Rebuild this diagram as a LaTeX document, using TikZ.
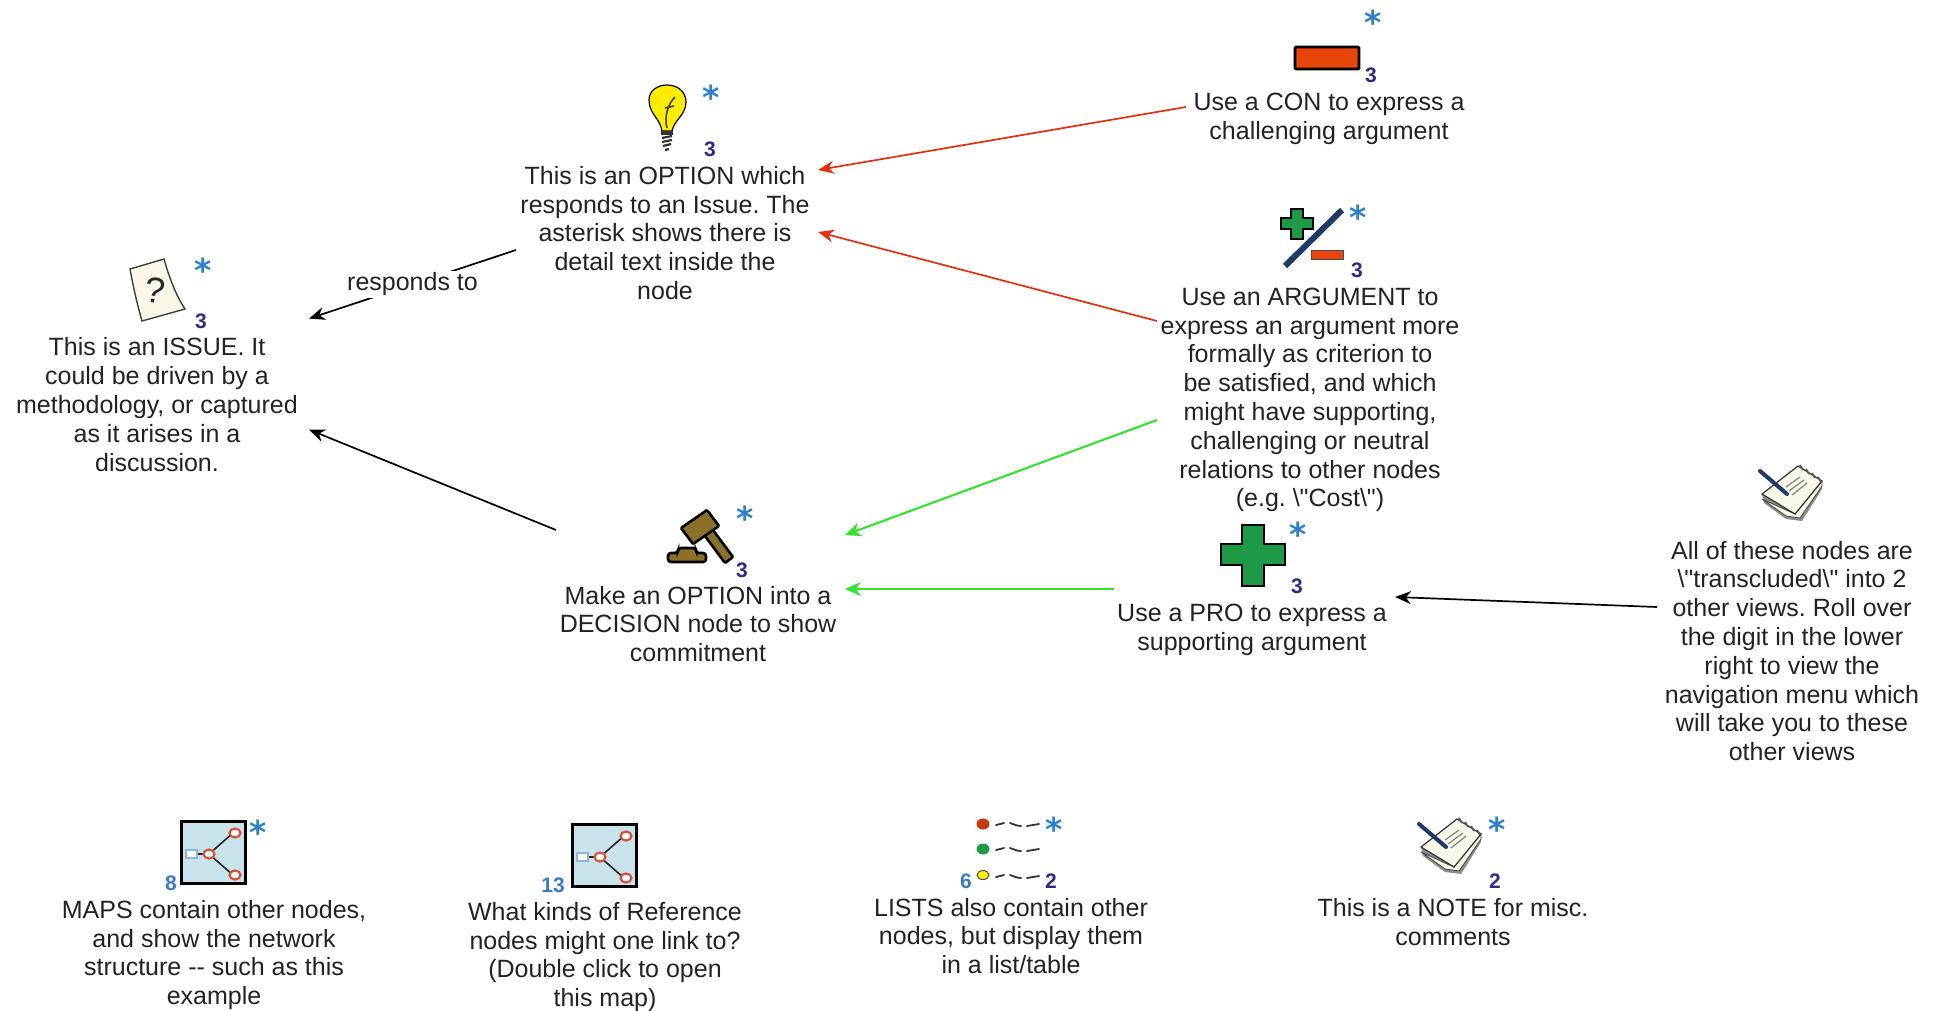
\documentclass[tikz,border=0pt]{standalone}
\usepackage{fontspec}
\setmainfont{Liberation Sans}
\newfontfamily\labelfont{Liberation Sans}
\newfontfamily\starfont{DejaVu Sans}
\usetikzlibrary{arrows.meta,calc}
\definecolor{inktext}{HTML}{222222}
\definecolor{starblue}{HTML}{2F7FCB}
\definecolor{cntnavy}{HTML}{2B2B85}
\definecolor{cntblue}{HTML}{3A7CC4}
\definecolor{conred}{HTML}{E8450A}
\definecolor{progreen}{HTML}{1E9A46}
\definecolor{linkred}{HTML}{E0300F}
\definecolor{linkgreen}{HTML}{35E035}
\definecolor{brass}{HTML}{8A7028}
\definecolor{mapfill}{HTML}{C8E4EA}
\definecolor{mapred}{HTML}{D8503C}
\definecolor{mapblue}{HTML}{8FB4DC}
\definecolor{paper}{HTML}{F8F7E8}
\definecolor{penblue}{HTML}{1F3A66}
\tikzset{
  txt/.style={align=center,inner sep=0pt,text=inktext,font=\labelfont\frenchspacing\fontsize{25}{28.8}\selectfont},
  starmark/.style={inner sep=0pt,text=starblue,font=\starfont\bfseries\fontsize{33}{33}\selectfont,yshift=-4.5pt},
  cnt/.style={inner sep=0pt,text=cntnavy,font=\bfseries\fontsize{21}{21}\selectfont},
  cntb/.style={inner sep=0pt,text=cntblue,font=\bfseries\fontsize{21}{21}\selectfont},
  blk/.style={draw=black,line width=1.7pt,-{Stealth[length=16pt,width=13pt]}},
  redl/.style={draw=linkred,line width=1.7pt,-{Stealth[length=16pt,width=13pt]}},
  grnl/.style={draw=linkgreen,line width=2.1pt,-{Stealth[length=16pt,width=14pt]}},
  noteicon/.pic={
    \fill[black!45] (-30,0) -- (-28,9) -- (-6,25) -- (10,27) -- (30,-5) -- (30,-13) -- cycle;
    \draw[black!70,line width=.9pt,fill=paper] (-30,5) -- (-6,22) -- (8,24) -- (30,-8) -- (30,-13) -- (3,20) -- cycle;
    \draw[black!80,line width=1.2pt,fill=paper] (-30,0) -- (6,-28) -- (30,-13) -- (3,20) -- cycle;
    \draw[black!50,line width=1.2pt] (-6,-7) -- (8,-17) (-3,-3) -- (12,-14) (0,1) -- (15,-11);
    \foreach \k in {0,1,2,3}{\draw[black!65,line width=1.8pt] ({8+6*\k},{-29+4*\k}) -- ({11+6*\k},{-24+4*\k});}
    \draw[penblue,line width=4pt,line cap=round] (-32,-23) -- (-5,0);
  },
  mapicon/.pic={
    \draw[black,line width=3pt,fill=mapfill] (0,0) rectangle (64,62);
    \draw[black!85,line width=1.6pt] (14,33) -- (28,33) -- (52,12) (28,33) -- (52,54);
    \draw[mapblue,line width=2pt,fill=white] (5,29) rectangle (16,37);
    \draw[mapred,line width=2.2pt,fill=white] (28,33) ellipse (5.5 and 4.5);
    \draw[mapred,line width=2.2pt,fill=white] (54,12) ellipse (5.5 and 4.5);
    \draw[mapred,line width=2.2pt,fill=white] (54,54) ellipse (5.5 and 4.5);
  },
  squiggle/.pic={
    \draw[black!80,line width=1.8pt,line cap=round] (0,0) -- (8,-2) (14,-2) .. controls (18,-1) and (20,1) .. (25,1) (31,1) -- (43,-1);
  }
}
\begin{document}
\begin{tikzpicture}[x=1pt,y=-1pt]
\useasboundingbox (0,0) rectangle (1937,1010);
% Text nodes
\node[txt] (opt) at (665,233) {This is an OPTION which\\responds to an Issue. The\\asterisk shows there is\\detail text inside the\\node};
\node[txt] (issue) at (157,404.6) {This is an ISSUE. It\\could be driven by a\\methodology, or captured\\as it arises in a\\discussion.};
\node[txt] (con) at (1329,119) {Use a CON to express a\\challenging argument};
\node[txt] (arg) at (1310,400) {Use an ARGUMENT to\\express an argument more\\formally as criterion to\\be satisfied, and which\\might have supporting,\\challenging or neutral\\relations to other nodes\\(e.g. \textbackslash"Cost\textbackslash")};
\node[txt] (dec) at (698,624) {Make an OPTION into a\\DECISION node to show\\commitment};
\node[txt] (pro) at (1252,630) {Use a PRO to express a\\supporting argument};
\node[txt] (side) at (1792,651) {All of these nodes are\\\textbackslash"transcluded\textbackslash" into 2\\other views. Roll over\\the digit in the lower\\right to view the\\navigation menu which\\will take you to these\\other views};
\node[txt] (maps) at (214,955) {MAPS contain other nodes,\\and show the network\\structure -- such as this\\example};
\node[txt] (refs) at (605,957) {What kinds of Reference\\nodes might one link to?\\(Double click to open\\this map)};
\node[txt] (lists) at (1011,936) {LISTS also contain other\\nodes, but display them\\in a list/table};
\node[txt] (note) at (1453,922) {This is a NOTE for misc.\\comments};
% Connectors
\draw[redl] ($(con)+(-143,-12)$) -- ($(opt)+(153,-63)$);
\draw[redl] ($(arg)+(-153,-79)$) -- ($(opt)+(153,-1)$);
\draw[grnl] ($(arg)+(-153,20)$) -- ($(dec)+(147,-89)$);
\draw[grnl] ($(pro)+(-138,-41)$) -- ($(dec)+(147,-35)$);
\draw[blk] ($(side)+(-135,-44)$) -- ($(pro)+(143,-33)$);
\draw[blk] ($(dec)+(-142,-94)$) -- ($(issue)+(152,25)$);
\draw[blk] ($(opt)+(-149,17)$) -- node[txt,fill=white,inner xsep=3pt,inner ysep=2pt] (rlabel) {responds to} ($(issue)+(152,-86)$);
% Bulb
\draw[black,line width=1.2pt,fill=yellow!95!orange] (662,131) .. controls (660,118) and (649,114) .. (649,100) .. controls (649,91) and (657,85) .. (667,85) .. controls (678,85) and (686,92) .. (686,102) .. controls (686,115) and (674,120) .. (672,131) -- cycle;
\draw[black!75,line width=1.6pt] (667,128) .. controls (664,116) and (668,104) .. (675,97) (665,108) -- (674,106);
\fill[black!80] (661,131) rectangle (673,135);
\draw[black!80,line width=2.2pt] (662,138) -- (672,136) (662,142) -- (672,140) (663,146) -- (671,144) (665,150) -- (669,149);
\node[starmark] (s1) at (711,93) {*};
\node[cnt] (c1) at (710,149) {3};
% Issue
\draw[black!75,line width=1.4pt,fill=paper] (130,269) -- (164,259) .. controls (170,280) and (176,295) .. (185,309) -- (142,321) .. controls (136,300) and (133,285) .. (130,269) -- cycle;
\node[inner sep=0pt,text=black!85,font=\fontsize{36}{36}\selectfont,rotate=-8] (q) at (155,290) {?};
\node[starmark] (s2) at (203,266) {*};
\node[cnt] (c2) at (201,321) {3};
% Con
\draw[black,line width=2.8pt,fill=conred,rounded corners=1pt] (1295,47) rectangle (1359,69);
\node[starmark] (s3) at (1373,18) {*};
\node[cnt] (c3) at (1371,75) {3};
% Argument
\draw[black,line width=1.5pt,fill=progreen] (1291,209) -- (1303,209) -- (1303,218) -- (1313,218) -- (1313,229) -- (1303,229) -- (1303,239) -- (1291,239) -- (1291,229) -- (1281,229) -- (1281,218) -- (1291,218) -- cycle;
\draw[penblue,line width=6pt] (1285,266) -- (1342,210);
\draw[black!70,line width=1pt,fill=conred] (1311,250) rectangle (1343,259);
\node[starmark] (s4) at (1358,213) {*};
\node[cnt] (c4) at (1357,270) {3};
% Decision
\draw[black,line width=2.6pt,fill=brass,rounded corners=1pt] (707,522) -- (733,557) -- (725,563) -- (699,528) -- cycle;
\draw[black,line width=2.6pt,fill=brass,rounded corners=1pt] (681,528) -- (707,510) -- (719,526) -- (693,544) -- cycle;
\draw[black,line width=2.6pt,fill=brass,rounded corners=3pt] (668,562) -- (668,553) -- (678,553) -- (678,548) -- (696,548) -- (696,553) -- (706,553) -- (706,562) -- cycle;
\node[starmark] (s5) at (745,514) {*};
\node[cnt] (c5) at (742,570) {3};
% Pro
\draw[black,line width=2.8pt,fill=progreen] (1242,525) -- (1264,525) -- (1264,544) -- (1285,544) -- (1285,565) -- (1264,565) -- (1264,586) -- (1242,586) -- (1242,565) -- (1221,565) -- (1221,544) -- (1242,544) -- cycle;
\node[starmark] (s6) at (1298,530) {*};
\node[cnt] (c6) at (1297,586) {3};
% Side note icon
\pic at (1792,494) {noteicon};
% Map 1
\pic at (181,821) {mapicon};
\node[starmark] (s7) at (258,828) {*};
\node[cntb] (c7) at (171,883) {8};
% Map 2
\pic at (572,824) {mapicon};
\node[cntb] (c8) at (553,885) {13};
% List
\fill[conred!85!black] (983,824) ellipse (6.5 and 5.5);
\fill[progreen] (983,849) ellipse (6.5 and 5.5);
\draw[black!70,line width=1pt,fill=yellow] (983,875) ellipse (6 and 4.5);
\pic at (996,825) {squiggle};
\pic at (996,850) {squiggle};
\pic at (996,877) {squiggle};
\node[starmark] (s9) at (1054,825) {*};
\node[cntb] (c9) at (966,881) {6};
\node[cnt] (c9b) at (1051,881) {2};
% Note
\pic at (1451,847) {noteicon};
\node[starmark] (s10) at (1497,825) {*};
\node[cnt] (c10) at (1495,881) {2};
\end{tikzpicture}
\end{document}
